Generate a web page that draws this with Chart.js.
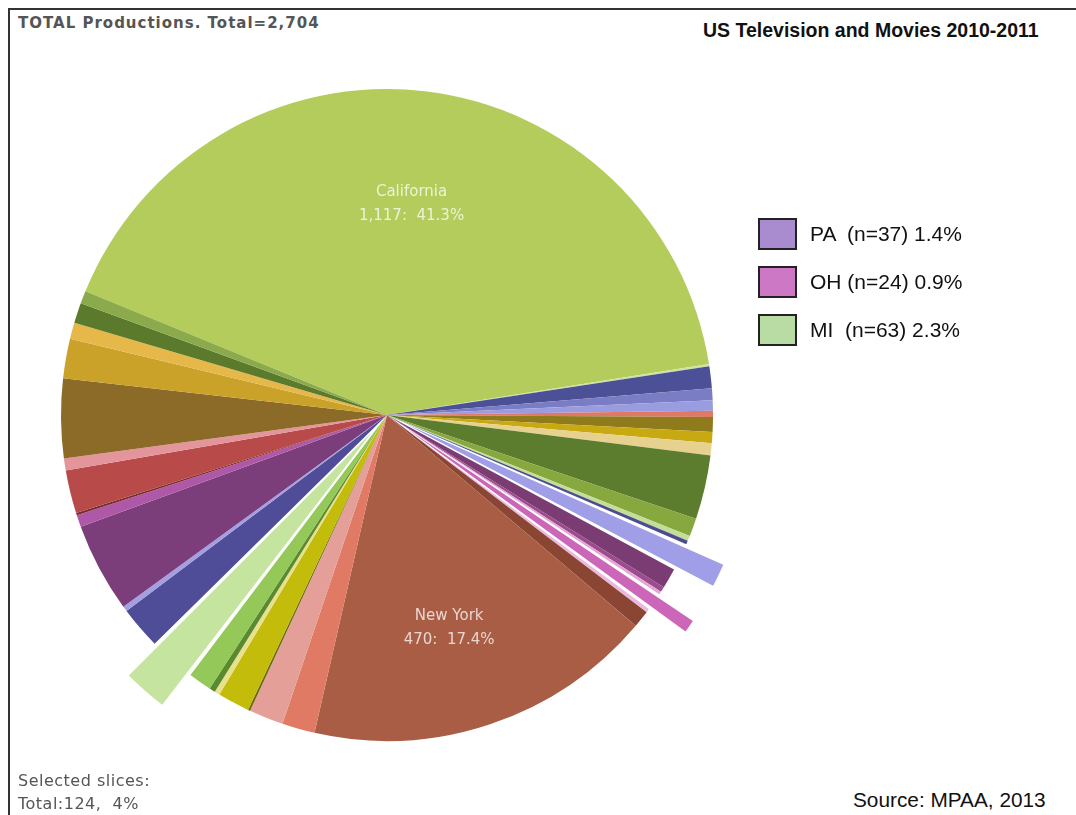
<!DOCTYPE html>
<html>
<head>
<meta charset="utf-8">
<script src="https://cdn.jsdelivr.net/npm/chart.js@4.4.1/dist/chart.umd.min.js"></script>
<style>
  body { margin: 0; background: #fff; width: 1076px; height: 815px; overflow: hidden; position: relative; }
  .abs { position: absolute; white-space: pre; }
  #wrap { position: absolute; left: 7px; top: 35px; width: 760px; height: 760px; }
  .gray { font-family: "DejaVu Sans", sans-serif; color: #555; }
  .arial { font-family: "Liberation Sans", Arial, sans-serif; color: #111; }
  .sw { position: absolute; width: 35px; height: 28px; border: 2px solid #222; }
</style>
</head>
<body>
<div class="abs" style="left:8px;top:8px;width:1068px;height:2px;background:#333"></div>
<div class="abs" style="left:8px;top:8px;width:2px;height:807px;background:#333"></div>

<div class="abs gray" style="left:18px;top:14px;font-size:15px;font-weight:bold;letter-spacing:1px;line-height:18px">TOTAL Productions. Total=2,704</div>
<div class="abs arial" style="left:703px;top:19px;font-size:19.5px;font-weight:bold;line-height:23px">US Television and Movies 2010-2011</div>

<div id="wrap"><canvas id="pie"></canvas></div>

<div class="sw" style="left:758px;top:218px;background:#a98ccf"></div>
<div class="abs arial" style="left:810px;top:222px;font-size:21px;line-height:24px">PA  (n=37) 1.4%</div>
<div class="sw" style="left:758px;top:266px;background:#cc78c4"></div>
<div class="abs arial" style="left:810px;top:270px;font-size:21px;line-height:24px">OH (n=24) 0.9%</div>
<div class="sw" style="left:758px;top:314px;background:#b9dca4"></div>
<div class="abs arial" style="left:810px;top:318px;font-size:21px;line-height:24px">MI  (n=63) 2.3%</div>

<div class="abs gray" style="left:18px;top:771px;font-size:16px;letter-spacing:0.5px;line-height:20px">Selected slices:</div>
<div class="abs gray" style="left:18px;top:794px;font-size:16px;letter-spacing:0.5px;line-height:20px">Total:124,  4%</div>
<div class="abs arial" style="left:853px;top:788px;font-size:20.8px;line-height:24px">Source: MPAA, 2013</div>

<script>
// slices in clockwise order, starting with California
const states = ['California', '', '', '', '', '', '', '', '', '', '', '', '',
  'PA', '', '', '', 'OH', '', '', 'New York', '', '', '', '', '', '', '',
  'MI', '', '', '', '', '', '', '', '', '', '', '', ''];
const counts = [1117, 3, 29, 16, 14, 8, 20, 15, 16, 86, 24, 7, 5,
  37, 27, 7, 4, 24, 5, 23, 470, 44, 46, 3, 43, 7, 8, 31,
  63, 57, 7, 120, 16, 3, 58, 16, 106, 53, 22, 27, 17];
const colors = ['#b4cc5c', '#cde3a0', '#4c5096', '#7a7cc4', '#9a9ce0', '#e07868', '#8f7a1c', '#c9a912', '#e6d28e', '#5c7c2e', '#86a83e', '#c4de96', '#4c4c94',
  '#a09ee6', '#7a3c72', '#9c4c8c', '#e4a4d8', '#cc66b8', '#ecb8e0', '#8a4632', '#a95d45', '#e07a64', '#e4a098', '#6a6a10', '#c4bc0a', '#e8e08a', '#5a8a30', '#94c858',
  '#c4e4a0', '#4f4c98', '#a49ee2', '#7c3e7a', '#b058a8', '#7c2c2c', '#b84a4a', '#e4959c', '#8c6a28', '#caa22a', '#e6b84a', '#5c7a2c', '#8aaa4c'];
const selected = ['PA', 'OH', 'MI'];
const labelled = ['California', 'New York'];

const total = counts.reduce((a, b) => a + b, 0);

// where the in-slice labels sit: fraction of radius, x nudge
const labelPos = { 'California': [0.65, 0], 'New York': [0.69, -9] };

const sliceLabels = {
  id: 'sliceLabels',
  afterDatasetsDraw(chart) {
    const ctx = chart.ctx;
    const meta = chart.getDatasetMeta(0);
    ctx.save();
    ctx.font = '15px "DejaVu Sans"';
    ctx.fillStyle = 'rgba(255,255,255,0.75)';
    ctx.textAlign = 'center';
    ctx.textBaseline = 'middle';
    labelled.forEach(name => {
      const i = states.indexOf(name);
      const p = meta.data[i].getProps(['x', 'y', 'startAngle', 'endAngle', 'outerRadius']);
      const mid = (p.startAngle + p.endAngle) / 2;
      const r = p.outerRadius * labelPos[name][0];
      const x = p.x + Math.cos(mid) * r + labelPos[name][1];
      const y = p.y + Math.sin(mid) * r;
      const v = counts[i];
      ctx.fillText(name, x, y - 12);
      ctx.fillText(v.toLocaleString('en-US') + ':  ' + (v / total * 100).toFixed(1) + '%', x, y + 12);
    });
    ctx.restore();
  }
};

new Chart(document.getElementById('pie'), {
  type: 'pie',
  data: {
    labels: states,
    datasets: [{
      data: counts,
      backgroundColor: colors,
      borderWidth: 0,
      radius: 326,
      offset: states.map(s => selected.includes(s) ? 88 : 0)
    }]
  },
  options: {
    responsive: true,
    maintainAspectRatio: false,
    animation: false,
    rotation: 292.3,
    layout: { padding: 0 },
    plugins: {
      legend: { display: false },
      tooltip: { enabled: false }
    }
  },
  plugins: [sliceLabels]
});
</script>
</body>
</html>
